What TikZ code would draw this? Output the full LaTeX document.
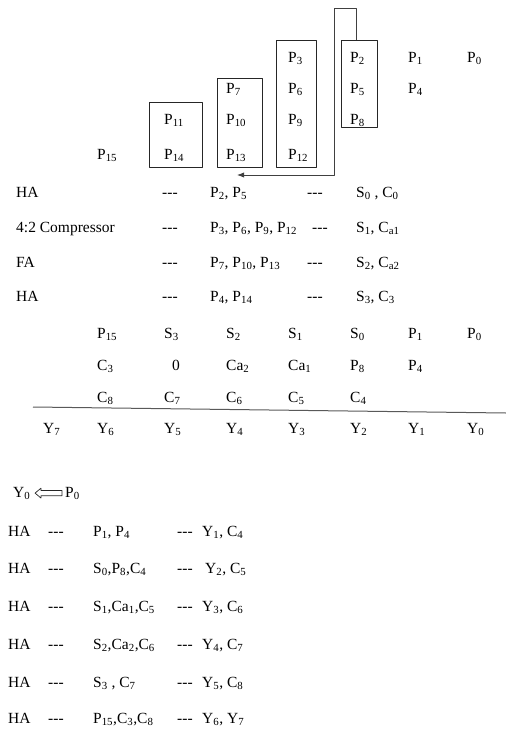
\documentclass[tikz,border=0pt]{standalone}
\usepackage{fontspec}
\setmainfont{Liberation Serif}
\usetikzlibrary{arrows.meta,positioning,shapes.arrows}

\newcommand{\lo}[1]{\textsubscript{#1}}
\newcommand{\trip}{-\kern0pt-\kern0pt-}

\begin{document}
\begin{tikzpicture}[
		x=1pt, y=-1pt,
		line join=round,
		font=\fontsize{15.5}{18}\selectfont,
		>=Latex,
		txt/.style={inner sep=0pt, anchor=base west},
		grp/.style={draw=black!85, line width=0.9pt, inner sep=0pt},
		feed/.style={->, black!75, line width=0.9pt},
		rule/.style={black!65, line width=1pt},
		hollow/.style={single arrow, draw=black!85, line width=0.7pt, fill=white,
			shape border rotate=180, inner sep=2.2pt, minimum height=27pt,
			single arrow head extend=2.4pt, single arrow tip angle=80}
	]
	
	\useasboundingbox (0,0) rectangle (506,731);
	
	% Columns
	\def\colA{43}
	\def\colB{97}
	\def\colC{164}
	\def\colD{226}
	\def\colE{288}
	\def\colF{350}
	\def\colG{408}
	\def\colH{467}
	
	% Partial products
	\foreach \n/\cx/\yy in {0/\colH/62, 1/\colG/62, 2/\colF/62, 3/\colE/62,
		4/\colG/93, 5/\colF/93, 6/\colE/93, 7/\colD/93,
		8/\colF/124, 9/\colE/124, 10/\colD/124, 11/\colC/124,
		12/\colE/159, 13/\colD/159, 14/\colC/159, 15/\colB/159} {
		\node[txt] (p\n) at (\cx,\yy) {P\lo{\n}};
	}
	
	% Groups
	\node[grp, minimum width=36, minimum height=87] (bxD) at (359,83.5) {};
	\node[grp, minimum width=40, minimum height=127] (bxC) at (296,103.5) {};
	\node[grp, minimum width=45, minimum height=89] (bxB) at (239.5,122.5) {};
	\node[grp, minimum width=53, minimum height=65] (bxA) at (175.5,134.5) {};
	
	% Feedback
	\coordinate (fbend) at (237,175);
	\draw[feed] ([xshift=-3pt]bxD.north) |- (334,8) |- (fbend);
	
	% First stage
	\foreach \i/\lbl/\ins/\outs/\yy/\dd in {
		1/HA/{P\lo{2}, P\lo{5}}/{S\lo{0} , C\lo{0}}/197/307,
		2/4:2 Compressor/{P\lo{3}, P\lo{6}, P\lo{9}, P\lo{12}}/{S\lo{1}, C\lo{a1}}/232/312,
		3/FA/{P\lo{7}, P\lo{10}, P\lo{13}}/{S\lo{2}, C\lo{a2}}/267/307,
		4/HA/{P\lo{4}, P\lo{14}}/{S\lo{3}, C\lo{3}}/301/307} {
		\node[txt] (ml\i) at (16,\yy) {\lbl};
		\node[txt] (md\i) at (162,\yy) {\trip};
		\node[txt] (mi\i) at (210,\yy) {\ins};
		\node[txt] (me\i) at (\dd,\yy) {\trip};
		\node[txt] (mo\i) at (356,\yy) {\outs};
	}
	
	% Sum rows
	\foreach \lbl/\cx [count=\k] in {P\lo{15}/\colB, S\lo{3}/\colC, S\lo{2}/\colD,
		S\lo{1}/\colE, S\lo{0}/\colF, P\lo{1}/\colG, P\lo{0}/\colH} {
		\node[txt] (sa\k) at (\cx,338) {\lbl};
	}
	\foreach \lbl/\cx [count=\k] in {C\lo{3}/\colB, 0/172, Ca\lo{2}/\colD,
		Ca\lo{1}/\colE, P\lo{8}/\colF, P\lo{4}/\colG} {
		\node[txt] (sb\k) at (\cx,370) {\lbl};
	}
	\foreach \lbl/\cx [count=\k] in {C\lo{8}/\colB, C\lo{7}/\colC, C\lo{6}/\colD,
		C\lo{5}/\colE, C\lo{4}/\colF} {
		\node[txt] (sc\k) at (\cx,402) {\lbl};
	}
	
	\coordinate (ruleL) at (33,407);
	\coordinate (ruleR) at (506,413);
	\draw[rule] (ruleL) -- (ruleR);
	
	\foreach \n/\cx in {7/\colA, 6/\colB, 5/\colC, 4/\colD, 3/\colE, 2/\colF, 1/\colG, 0/\colH} {
		\node[txt] (y\n) at (\cx,433) {Y\lo{\n}};
	}
	
	% Final stage
	\node[txt] (fy0) at (13,497) {Y\lo{0}};
	\node[hollow, right=4pt of fy0] (arr) {};
	\node[txt] (fp0) at (65,497) {P\lo{0}};
	
	\foreach \i/\ins/\outs/\yy/\ox in {
		1/{P\lo{1}, P\lo{4}}/{Y\lo{1}, C\lo{4}}/536/202,
		2/{S\lo{0},P\lo{8},C\lo{4}}/{Y\lo{2}, C\lo{5}}/573/205,
		3/{S\lo{1},Ca\lo{1},C\lo{5}}/{Y\lo{3}, C\lo{6}}/611/202,
		4/{S\lo{2},Ca\lo{2},C\lo{6}}/{Y\lo{4}, C\lo{7}}/649/202,
		5/{S\lo{3} , C\lo{7}}/{Y\lo{5}, C\lo{8}}/687/202,
		6/{P\lo{15},C\lo{3},C\lo{8}}/{Y\lo{6}, Y\lo{7}}/723/202} {
		\node[txt] (hl\i) at (8,\yy) {HA};
		\node[txt] (hd\i) at (48,\yy) {\trip};
		\node[txt] (hi\i) at (93,\yy) {\ins};
		\node[txt] (he\i) at (177,\yy) {\trip};
		\node[txt] (ho\i) at (\ox,\yy) {\outs};
	}
	
\end{tikzpicture}
\end{document}
